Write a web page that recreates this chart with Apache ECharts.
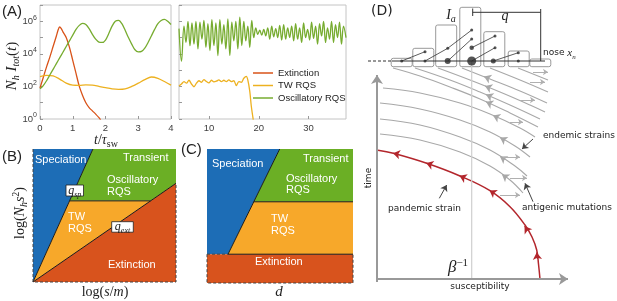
<!DOCTYPE html>
<html><head><meta charset="utf-8">
<script src="https://cdn.jsdelivr.net/npm/echarts@6/dist/echarts.min.js"></script>
<style>html,body{margin:0;padding:0;background:#fff}#c{width:617px;height:301px}</style>
</head><body><div id="c"></div>
<script>
// ---------------- Panel A data (log10 of N_h I_tot) ----------------
const extT   = [0,0.1,0.2,0.3,0.4,0.5,0.55,0.6,0.65,0.7,0.8,0.9,1.0,1.1,1.2,1.3,1.4,1.5,1.6,1.7,1.8,1.85];
const extLog = [1.9,2.55,3.2,3.8,4.45,5.1,5.45,5.65,5.55,5.35,5.0,4.4,3.6,2.8,2.0,1.45,1.0,0.7,0.5,0.3,0.08,-0.05];
const twT1   = [0,0.2,0.4,0.6,0.8,1.0,1.2,1.4,1.6,1.8,2.0,2.2,2.4,2.6,2.8,3.0,3.2,3.4,3.6,3.8,4.0];
const twLog1 = [2.6,2.68,2.65,2.45,2.2,2.08,2.07,2.1,2.08,2.0,1.92,1.85,1.82,1.85,2.0,2.2,2.42,2.58,2.5,2.3,2.08];
const oscT1  = [0,0.1,0.2,0.3,0.4,0.5,0.6,0.7,0.8,0.9,1.0,1.1,1.2,1.3,1.4,1.5,1.6,1.7,1.8,1.9,2.0,2.1,2.2,2.3,2.4,2.5,2.6,2.7,2.8,2.9,3.0,3.1,3.2,3.3,3.4,3.5,3.6,3.7,3.8,3.9,4.0];
const oscLog1= [1.85,2.05,2.35,2.7,3.05,3.4,3.75,4.1,4.45,4.8,5.15,5.5,5.75,5.87,5.8,5.55,5.2,4.9,4.72,4.7,4.85,5.25,5.7,6.0,6.05,5.85,5.45,5.0,4.6,4.25,4.12,4.15,4.35,4.7,5.1,5.5,5.85,6.05,6.12,6.0,5.8];
const twT2   = [4.0,4.5,5.0,5.5,6.0,6.5,7.0,7.5,8.0,8.5,9.0,9.5,10.0,10.5,11.0,11.5,12.0,12.5,13.0,13.5,14.0,14.5,15.0,15.5,16.0,16.5,17.0,17.5,17.8,18.2,18.5,18.9];
const twLog2 = [2.02,2.15,2.3,2.2,2.38,2.15,1.98,2.2,2.35,2.25,2.42,2.3,2.22,2.38,2.28,2.32,2.4,2.3,2.38,2.3,2.4,2.3,2.35,2.05,2.3,2.25,2.5,2.62,2.4,1.7,0.8,-0.05];
const oscT2  = [4.0,4.5,5.0,5.4,5.8,6.2,6.6,7.0,7.4,7.8,8.2,8.6,9.0,9.4,9.8,10.2,10.6,11.0,11.4,11.8,12.2,12.6,13.0,13.4,13.8,14.2,14.6,15.0,15.4,15.8,16.2,16.6,17.0,17.4,17.8,18.2,18.6,
                19.0,19.4,19.8,20.2,20.6,21.0,21.4,21.8,22.2,22.6,23.0,23.4,23.8,24.2,24.6,25.0,25.4,25.8,26.2,26.6,27.0,27.4,27.8,28.2,28.6,29.0,29.4,29.8,30.2,30.6,31.0,31.4,31.8,32.2,32.6,33.0,33.4,33.8,34.2,34.6,35.0,35.4,35.8,36.2,36.6,37.0,37.5];
const oscLog2= [5.55,3.55,5.7,4.7,6.0,4.5,5.9,4.6,6.0,4.3,5.95,4.9,6.05,4.4,5.85,4.2,6.1,4.5,5.9,3.9,6.1,4.6,5.8,4.3,6.15,3.9,5.95,4.8,6.0,4.3,6.25,4.5,6.0,4.8,5.7,4.4,6.05,
                5.0,5.6,5.2,5.45,5.15,5.5,5.1,5.6,4.9,5.7,5.05,5.55,5.0,5.75,4.85,5.8,4.9,5.6,5.0,5.7,4.8,5.85,4.9,5.6,4.7,5.9,5.0,5.5,4.85,5.95,4.95,5.7,4.6,5.85,5.1,6.0,4.7,5.6,4.9,6.0,4.7,5.8,5.0,5.95,4.6,5.7,5.0];
const aLogTicks = [0,2,4,6];
const aRightTicks = [10,20,30];

// ---------------- Panels B, C (phase diagrams, normalised axes) ----------------
const regionNames = ['Speciation','Oscillatory RQS','TW RQS','Extinction'];
const regionColors = ['#1D6DB6','#6BAF25','#F7A82A','#D8531D'];
const bRegions = [
  [[0,0],[0,1],[0.419,1]],
  [[0.256,0.61],[0.419,1],[1,1],[1,0.742],[0.822,0.61]],
  [[0,0],[0.256,0.61],[0.822,0.61]],
  [[0,0],[1,0.742],[1,0]]
];
const bBounds = [ [[0,0],[0.419,1]], [[0.256,0.61],[0.822,0.61]], [[0,0],[1,0.742]] ];
const bDashed = [ [[0,1],[0,0],[1,0],[1,0.742]] ];
const cRegions = [
  [[0,0.215],[0,1],[0.498,1],[0.144,0.215]],
  [[0.32,0.606],[0.498,1],[1,1],[1,0.606]],
  [[0.144,0.215],[0.32,0.606],[1,0.606],[1,0.215]],
  [[0,0],[0,0.215],[1,0.215],[1,0]]
];
const cBounds = [ [[0.144,0.215],[0.498,1]], [[0.32,0.606],[1,0.606]], [[0.144,0.215],[1,0.215]] ];
const cDashed = [ [[0,0.215],[0,0],[1,0],[1,0.215]], [[0,0.215],[0.144,0.215]] ];

// ---------------- Panel D (schematic: x = susceptibility, y = time) ----------------
const histCenters = [24.7,46.3,69.2,93.3,117.3,141.7,163.3];
const histTops    = [220.7,230.7,254,271.7,247.3,228,220];
const histBase = 212.3, histWidth = 21;
const redCurve = [[163,0],[161.5,15],[159.7,29],[155,42],[148,54],[133,72.3],[113,88.3],[83,103],[49.7,115.7],[16.3,125.7],[1,128.8]];
const redArrows = [ [[160.4,20],[159.7,26.5]], [[150.5,48.5],[147.5,52.8]], [[117.5,85.5],[112.5,88.6]], [[87.5,101],[82.5,103.2]], [[54,114.3],[49.2,115.9]], [[21,124.8],[16,125.8]] ];
const grayCurves = [
  [[3,145],[43,139],[83,127],[113,113],[133,99],[146,86]],
  [[3,160],[43,154],[83,142],[113,129],[138,113],[150,103]],
  [[3,176],[43,170],[83,159],[113,147],[138,133],[153,122]],
  [[6,191],[43,186],[83,176],[113,165],[143,151],[158,142]],
  [[16,211],[43,203],[73,192],[103,180],[133,166],[161,152]],
  [[38,211],[73,199],[103,187],[133,174],[163,160]],
  [[61,211],[93,199],[123,187],[153,174],[168,167]],
  [[85,211],[113,200],[143,188],[170,176]],
  [[113,211],[143,199],[171,187]],
  [[141,211],[171,199]]
];
const grayArrows = [ [[130,101.1],[125,104.6]], [[128,119.4],[123,122.6]], [[128,138.6],[123,141.4]], [[121,161.3],[116,163.6]],
  [[114,174.9],[109,177.2]], [[114,182.2],[109,184.4]], [[113,191],[108,193]], [[112,200.4],[107,202.4]] ];
const mutationArrows = [ [[123,84],[143,84]], [[133,101],[150,101]], [[126,122],[143,122]], [[133,157],[146,157]], [[143,179],[158,179]], [[153,197],[168,197]], [[156,207],[171,207]] ];
const axisArrows = [ [[0,0],[191,0]], [[0,-3],[0,204]] ];
const betaLine = [[94.7,0],[94.7,218]];
const baselineDashed = [[-9,218],[15,218]];
const baselineSolid = [[15,218],[168,218]];
const lineages = [ [[24.7,218],[48,227.3]], [[48,218],[70.7,230.7],[94.7,249]], [[70.7,218],[94.7,240]], [[94.7,231.3],[118,243]], [[94.7,218],[118,231.3]], [[116.3,218],[141.3,226.3]] ];
const dots = [[24.7,218,3],[48,218,3],[70.7,218,6],[94.7,218,9],[116.3,218,5],[141.3,218,3],
  [48,227.3,3],[70.7,230.7,3],[94.7,249,3],[94.7,240,3],[94.7,231.3,4.5],[118,243,3],[118,231.3,3],[141.3,226.3,3]];
const qBar = [ [[95.7,266.7],[163.7,266.7]], [[95.7,263],[95.7,270.5]], [[163.7,270],[163.7,218]] ];
const noteArrows = [ [[156,140],[145,130]], [[156,77.3],[148,95.7]], [[62.3,80.7],[69.7,94]] ];

// ---------------- build ----------------
const chart = echarts.init(document.getElementById('c'));
const SANS = '"Liberation Sans", Arial, sans-serif';
const SERIF = '"Liberation Serif", "DejaVu Serif", serif';
const DJ = '"DejaVu Sans", sans-serif';
const toPts = (t, l) => t.map((x, i) => [x, Math.pow(10, l[i])]);
const A_COL = {ext:'#D95319', tw:'#EDB120', osc:'#77AC30'};

function lineS(pts, xi, color, width, extra) {
  return Object.assign({type:'line', xAxisIndex:xi, yAxisIndex:xi, data:pts, symbol:'none', clip:false, silent:true,
    lineStyle:{color, width}}, extra || {});
}
function arrowS(segs, color, width, size) {
  return {type:'lines', coordinateSystem:'cartesian2d', xAxisIndex:4, yAxisIndex:4, silent:true, z:6,
    data: segs.map(s => ({coords:s})), symbol:['none','arrow'], symbolSize:[0,size],
    lineStyle:{color, width, opacity:1}};
}
function polySeries(regions, xi) {
  return {type:'custom', xAxisIndex:xi, yAxisIndex:xi, silent:true, z:1,
    data: regions.map((r, i) => [i]),
    renderItem: (params, api) => {
      const i = api.value(0);
      return {type:'polygon', shape:{points: regions[i].map(p => api.coord(p))}, style:{fill: regionColors[i]}};
    }};
}
const series = [];
// Panel A
series.push({name:'Extinction', type:'line', xAxisIndex:0, yAxisIndex:0, data:toPts(extT, extLog), symbol:'none', smooth:0.3, lineStyle:{color:A_COL.ext, width:1.3}, itemStyle:{color:A_COL.ext}});
series.push({name:'TW RQS', type:'line', xAxisIndex:0, yAxisIndex:0, data:toPts(twT1, twLog1), symbol:'none', smooth:0.3, lineStyle:{color:A_COL.tw, width:1.3}, itemStyle:{color:A_COL.tw}});
series.push({name:'Oscillatory RQS', type:'line', xAxisIndex:0, yAxisIndex:0, data:toPts(oscT1, oscLog1), symbol:'none', smooth:0.3, lineStyle:{color:A_COL.osc, width:1.3}, itemStyle:{color:A_COL.osc}});
series.push({name:'TW RQS', type:'line', xAxisIndex:1, yAxisIndex:1, data:toPts(twT2, twLog2), symbol:'none', smooth:0.3, lineStyle:{color:A_COL.tw, width:1.3}, itemStyle:{color:A_COL.tw}});
series.push({name:'Oscillatory RQS', type:'line', xAxisIndex:1, yAxisIndex:1, data:toPts(oscT2, oscLog2), symbol:'none', smooth:0.4, lineStyle:{color:A_COL.osc, width:1.3}, itemStyle:{color:A_COL.osc}});
// Panel B
series.push(polySeries(bRegions, 2));
bBounds.forEach(b => series.push(lineS(b, 2, '#1a1a1a', 1, {z:3})));
bDashed.forEach(b => series.push(lineS(b, 2, '#333', 1, {z:3, lineStyle:{color:'#444', width:1, type:[3,2]}})));
// Panel C
series.push(polySeries(cRegions, 3));
cBounds.forEach(b => series.push(lineS(b, 3, '#1a1a1a', 1, {z:3})));
cDashed.forEach(b => series.push(lineS(b, 3, '#333', 1, {z:3, lineStyle:{color:'#444', width:1, type:[3,2]}})));
// Panel D
grayCurves.forEach(g => series.push(lineS(g, 4, '#a8a8a8', 1.1, {smooth:0.4, z:2})));
series.push(lineS(redCurve, 4, '#B3262C', 1.5, {smooth:0.4, z:4}));
series.push({type:'custom', xAxisIndex:4, yAxisIndex:4, silent:true, z:3,
  data: histCenters.map((c, i) => [c, histTops[i]]),
  renderItem: (params, api) => {
    const p1 = api.coord([api.value(0) - histWidth/2, api.value(1)]);
    const p2 = api.coord([api.value(0) + histWidth/2, histBase]);
    return {type:'rect', shape:{x:p1[0], y:p1[1], width:p2[0]-p1[0], height:p2[1]-p1[1], r:2},
      style:{fill:'#fff', stroke:'#999', lineWidth:1}};
  }});
series.push(lineS(betaLine, 4, '#cfcfcf', 1.2, {z:4}));
series.push(lineS(baselineDashed, 4, '#333', 1, {z:5, lineStyle:{color:'#333', width:1, type:[3,2]}}));
series.push(lineS(baselineSolid, 4, '#333', 1, {z:5}));
lineages.forEach(l => series.push(lineS(l, 4, '#333', 0.8, {z:5})));
qBar.forEach(l => series.push(lineS(l, 4, '#333', 1, {z:5})));
series.push({type:'scatter', xAxisIndex:4, yAxisIndex:4, silent:true, z:7, data:dots, symbolSize: v => v[2], itemStyle:{color:'#2a2a2a'}});
series.push(arrowS(axisArrows, '#999', 2, 9));
series.push(arrowS(redArrows, '#B3262C', 1, 7));
series.push(arrowS(grayArrows, '#a8a8a8', 1, 7));
series.push(arrowS(mutationArrows, '#b0b0b0', 1, 5));
series.push(arrowS(noteArrows, '#444', 1, 6));

function tx(x, y, text, o) {
  o = o || {};
  return {type:'text', x, y, rotation:o.rot || 0, z:100, silent:true,
    style: Object.assign({text, fill:o.fill || '#222', font: o.font || ('11px ' + SANS),
      align:o.align || 'left', verticalAlign:'middle', rich:o.rich}, o.style || {})};
}
const mathRich = (fs) => ({
  i:{fontFamily:SERIF, fontStyle:'italic', fontSize:fs, lineHeight:fs+4, fill:'#222'},
  r:{fontFamily:SERIF, fontSize:fs, lineHeight:fs+4, fill:'#222'},
  s:{fontFamily:SERIF, fontStyle:'italic', fontSize:Math.round(fs*0.68), lineHeight:Math.round(fs*0.68), verticalAlign:'bottom', fill:'#222'},
  sr:{fontFamily:SERIF, fontSize:Math.round(fs*0.68), lineHeight:Math.round(fs*0.68), verticalAlign:'bottom', fill:'#222'},
  p:{fontFamily:SERIF, fontSize:Math.round(fs*0.68), lineHeight:Math.round(fs*0.68), verticalAlign:'top', fill:'#222'}
});
const W = {fill:'#fff', font:'11px ' + SANS};
const D9 = {fill:'#222', font:'9px ' + DJ};
const graphics = [
  tx(2, 12, '(A)', {font:'15px ' + SANS}),
  tx(2, 157, '(B)', {font:'15px ' + SANS}),
  tx(181, 150, '(C)', {font:'15px ' + SANS}),
  tx(371, 11, '(D)', {font:'14px ' + DJ}),
  tx(12, 66, '{i|N}{s|h}{i| I}{s|tot}{r|(}{i|t}{r|)}', {rot:Math.PI/2, align:'center', rich:mathRich(15)}),
  tx(106, 140, '{i|t}{r|/}{i|τ}{sr|sw}', {align:'center', rich:mathRich(14)}),
  tx(20, 213, '{r|log(}{i|N}{s|h}{i|s}{p|2}{r|)}', {rot:Math.PI/2, align:'center', rich:mathRich(14)}),
  tx(105, 292, '{r|log(}{i|s}{r|/}{i|m}{r|)}', {align:'center', rich:mathRich(14)}),
  tx(279, 292, '{i|d}', {align:'center', rich:mathRich(15)}),
  tx(35, 160, 'Speciation', W), tx(123, 158, 'Transient', W), tx(107, 180, 'Oscillatory', W), tx(107, 192, 'RQS', W),
  tx(68, 217, 'TW', W), tx(68, 229, 'RQS', W), tx(108, 265, 'Extinction', W),
  tx(212, 164, 'Speciation', W), tx(303, 159, 'Transient', W), tx(286, 179, 'Oscillatory', W), tx(286, 190, 'RQS', W),
  tx(271, 219, 'TW', W), tx(271, 231, 'RQS', W), tx(255, 262, 'Extinction', W),
  {type:'rect', shape:{x:66, y:185, width:17.5, height:11}, style:{fill:'#fff', stroke:'#222', lineWidth:0.8}, z:99},
  tx(74.7, 190.5, '{i|q}{s|sp}', {align:'center', rich:mathRich(12)}),
  {type:'rect', shape:{x:111.7, y:221.7, width:21.6, height:10.5}, style:{fill:'#fff', stroke:'#222', lineWidth:0.8}, z:99},
  tx(122.5, 227, '{i|q}{s|ext}', {align:'center', rich:mathRich(12)}),
  tx(451, 15, '{i|I}{s|a}', {align:'center', rich:mathRich(14)}),
  tx(505, 16, '{i|q}', {align:'center', rich:mathRich(14)}),
  tx(543, 53, '{n|nose }{i|x}{s|n}', {rich:Object.assign(mathRich(11), {n:{fontFamily:DJ, fontSize:9, fill:'#222'}})}),
  tx(369, 178, 'time', Object.assign({rot:Math.PI/2, align:'center'}, D9)),
  tx(480, 287, 'susceptibility', Object.assign({align:'center'}, D9)),
  tx(458, 268, '{i|β}{p|−1}', {align:'center', rich:Object.assign(mathRich(17), {p:{fontFamily:SERIF, fontSize:11, lineHeight:11, verticalAlign:'top', fill:'#222'}})}),
  tx(543, 136, 'endemic strains', D9),
  tx(522, 208, 'antigenic mutations', D9),
  tx(388, 209, 'pandemic strain', D9)
];

const tickLabel = {color:'#404040', fontSize:9.5, fontFamily:SANS};
const hidden = {show:false};
const option = {
  animation:false,
  backgroundColor:'#fff',
  grid:[
    {left:40, top:5, width:131, height:114, show:true, borderColor:'#c4c4c4', borderWidth:1},
    {left:179, top:5, width:167, height:114, show:true, borderColor:'#c4c4c4', borderWidth:1},
    {left:33, top:149, width:143, height:133},
    {left:207, top:149, width:146, height:134},
    {left:357, top:0, width:260, height:301}
  ],
  xAxis:[
    {gridIndex:0, type:'value', min:0, max:4, interval:1, axisLine:hidden, splitLine:hidden,
      axisTick:{inside:true, length:3, lineStyle:{color:'#999'}}, axisLabel:Object.assign({margin:4}, tickLabel)},
    {gridIndex:1, type:'value', min:4, max:37.5, axisLine:hidden, splitLine:hidden,
      axisTick:{inside:true, length:3, lineStyle:{color:'#999'}, customValues:aRightTicks},
      axisLabel:Object.assign({margin:4, customValues:aRightTicks}, tickLabel)},
    {gridIndex:2, type:'value', min:0, max:1, show:false},
    {gridIndex:3, type:'value', min:0, max:1, show:false},
    {gridIndex:4, type:'value', min:-20, max:240, show:false}
  ],
  yAxis:[
    {gridIndex:0, type:'log', min:1, max:1e7, splitNumber:4, axisLine:hidden, splitLine:hidden,
      axisTick:{inside:true, length:3, lineStyle:{color:'#999'}},
      axisLabel:{margin:3, formatter:(v) => { const e = Math.round(Math.log10(v)); return aLogTicks.includes(e) ? '{b|10}{s|' + e + '}' : ''; },
        rich:{b:{fontSize:9.5, color:'#404040', fontFamily:SANS, lineHeight:14}, s:{fontSize:7, color:'#404040', fontFamily:SANS, lineHeight:8, verticalAlign:'top'}}}},
    {gridIndex:1, type:'log', min:1, max:1e7, splitNumber:4, axisLine:hidden, splitLine:hidden,
      axisTick:{inside:true, length:3, lineStyle:{color:'#999'}}, axisLabel:{show:false}},
    {gridIndex:2, type:'value', min:0, max:1, show:false},
    {gridIndex:3, type:'value', min:0, max:1, show:false},
    {gridIndex:4, type:'value', min:-22, max:279, show:false}
  ],
  legend:{data:['Extinction','TW RQS','Oscillatory RQS'], orient:'vertical', left:253, top:67, padding:0, icon:'rect',
    itemWidth:20, itemHeight:1.5, itemGap:0.5, textStyle:{fontSize:9.5, color:'#222', fontFamily:SANS, lineHeight:12}},
  series,
  graphic:graphics
};
chart.setOption(option);
</script>
</body></html>
